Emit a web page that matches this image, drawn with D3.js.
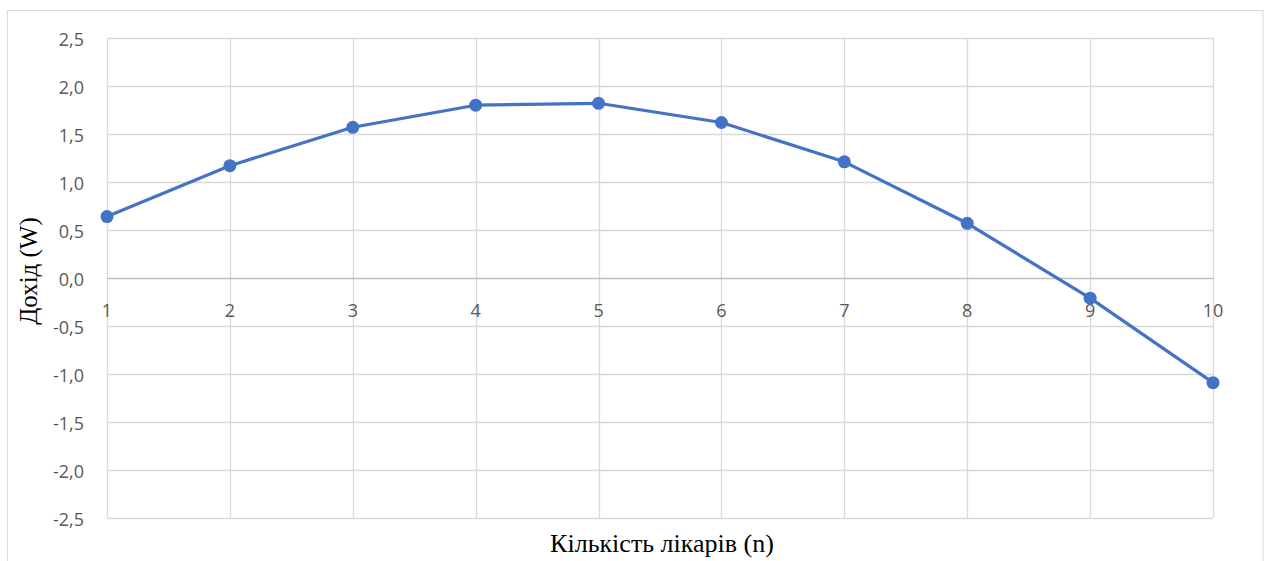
<!DOCTYPE html>
<html>
<head>
<meta charset="utf-8">
<script src="https://cdn.jsdelivr.net/npm/d3@7"></script>
<style>
  html, body { margin: 0; padding: 0; background: #fff; }
  svg { display: block; }
</style>
</head>
<body>
<svg id="chart" width="1269" height="561"></svg>
<script>
// Number of doctors (n) and the resulting income W
const doctors = [1, 2, 3, 4, 5, 6, 7, 8, 9, 10];
const income = [0.64, 1.17, 1.57, 1.80, 1.82, 1.62, 1.21, 0.57, -0.21, -1.09];
const yTicks = [2.5, 2.0, 1.5, 1.0, 0.5, 0.0, -0.5, -1.0, -1.5, -2.0, -2.5];
const xTitle = "Кількість лікарів (n)";
const yTitle = "Дохід (W)";

const svg = d3.select("#chart");
const W = 1269, H = 561;
const plot = { left: 107, right: 1213, top: 38, bottom: 518 };

// outer chart frame
svg.append("rect")
  .attr("x", 7.5).attr("y", 10.5)
  .attr("width", 1263 - 7.5).attr("height", H)
  .attr("fill", "#fff").attr("stroke", "#d9d9d9").attr("stroke-width", 1);

const x = d3.scaleLinear().domain([1, 10]).range([plot.left, plot.right]);
const y = d3.scaleLinear().domain([-2.5, 2.5]).range([plot.bottom, plot.top]);

const fmt = v => d3.format(".1f")(v).replace(".", ",").replace("−", "-");

// horizontal gridlines
svg.append("g")
  .selectAll("line").data(yTicks.filter(v => v !== 0)).join("line")
  .attr("x1", plot.left).attr("x2", plot.right)
  .attr("y1", d => Math.round(y(d)) + 0.5).attr("y2", d => Math.round(y(d)) + 0.5)
  .attr("stroke", "#d9d9d9").attr("stroke-width", 1.3);

// vertical gridlines at each category
svg.append("g")
  .selectAll("line").data(doctors).join("line")
  .attr("x1", d => Math.round(x(d)) + 0.5).attr("x2", d => Math.round(x(d)) + 0.5)
  .attr("y1", plot.top).attr("y2", plot.bottom)
  .attr("stroke", "#d9d9d9").attr("stroke-width", 1.3);

// zero axis line
svg.append("line")
  .attr("x1", plot.left).attr("x2", plot.right)
  .attr("y1", Math.round(y(0)) + 0.5).attr("y2", Math.round(y(0)) + 0.5)
  .attr("stroke", "#bfbfbf").attr("stroke-width", 1.3);

// y tick labels
svg.append("g")
  .selectAll("text").data(yTicks).join("text")
  .attr("x", 84).attr("y", d => y(d) + 7.5)
  .attr("text-anchor", "end")
  .attr("font-family", "'Open Sans', 'Noto Sans', sans-serif")
  .attr("font-size", 18)
  .attr("fill", "#595959")
  .text(fmt);

// x tick labels sit just below the zero line
svg.append("g")
  .selectAll("text").data(doctors).join("text")
  .attr("x", d => x(d)).attr("y", y(0) + 38.5)
  .attr("text-anchor", "middle")
  .attr("font-family", "'Open Sans', 'Noto Sans', sans-serif")
  .attr("font-size", 18)
  .attr("fill", "#595959")
  .text(d => d);

// axis titles
svg.append("text")
  .attr("x", 662).attr("y", 552)
  .attr("text-anchor", "middle")
  .attr("font-family", "'Liberation Serif', 'Times New Roman', serif")
  .attr("font-size", 26)
  .attr("fill", "#000")
  .text(xTitle);

svg.append("text")
  .attr("transform", "translate(37, 271) rotate(-90)")
  .attr("text-anchor", "middle")
  .attr("font-family", "'Liberation Serif', 'Times New Roman', serif")
  .attr("font-size", 25)
  .attr("fill", "#000")
  .text(yTitle);

// income series
const line = d3.line().x((d, i) => x(doctors[i])).y(d => y(d));
svg.append("path")
  .datum(income)
  .attr("d", line)
  .attr("fill", "none")
  .attr("stroke", "#4472c4")
  .attr("stroke-width", 3.2)
  .attr("stroke-linejoin", "round");

svg.append("g")
  .selectAll("circle").data(income).join("circle")
  .attr("cx", (d, i) => x(doctors[i])).attr("cy", d => y(d))
  .attr("r", 6.5)
  .attr("fill", "#4472c4");
</script>
</body>
</html>
